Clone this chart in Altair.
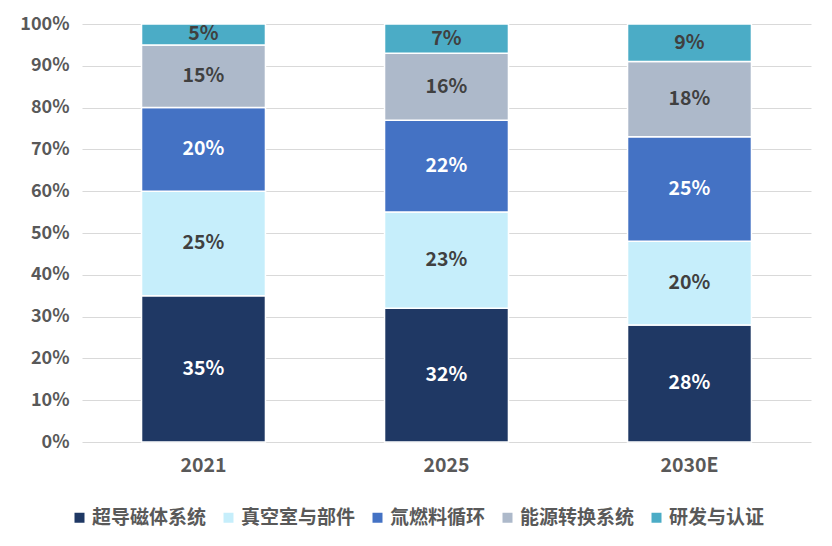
import altair as alt
import pandas as pd

years = ["2021", "2025", "2030E"]
series = ["超导磁体系统", "真空室与部件", "氚燃料循环", "能源转换系统", "研发与认证"]
colors = ["#1F3864", "#C6EEFB", "#4472C4", "#ADB9CA", "#4BACC6"]
text_colors = ["white", "#404040", "white", "#404040", "#404040"]
values = {
    "超导磁体系统": [35, 32, 28],
    "真空室与部件": [25, 23, 20],
    "氚燃料循环": [20, 22, 25],
    "能源转换系统": [15, 16, 18],
    "研发与认证": [5, 7, 9],
}

rows = []
for si, s in enumerate(series):
    for yi, y in enumerate(years):
        rows.append({"year": y, "series": s, "idx": si, "value": values[s][yi],
                     "tcolor": text_colors[si]})
df = pd.DataFrame(rows)

FONT = "Noto Sans CJK SC"

base = alt.Chart(df).transform_stack(
    stack="value", groupby=["year"], as_=["y0", "y1"],
    sort=[alt.SortField("idx", order="ascending")]
).transform_calculate(mid="(datum.y0 + datum.y1) / 2")

bars = base.mark_bar(stroke="white", strokeWidth=1.5).encode(
    x=alt.X("year:N", sort=years, title=None,
            scale=alt.Scale(paddingInner=0.49, paddingOuter=0.245),
            axis=alt.Axis(labelAngle=0, labelFontSize=19.5, labelFontWeight="bold",
                          labelColor="#595959", labelFont=FONT, ticks=False,
                          domain=False, labelPadding=14)),
    y=alt.Y("y0:Q", title=None, scale=alt.Scale(domain=[0, 100], nice=False),
            axis=alt.Axis(values=list(range(0, 101, 10)), labelExpr="datum.value + '%'",
                          labelFontSize=18, labelFontWeight="bold", labelColor="#595959",
                          labelFont=FONT, ticks=False, domain=False, labelPadding=13,
                          gridColor="#D9D9D9", gridWidth=1)),
    y2="y1:Q",
    color=alt.Color("series:N", sort=series,
                    scale=alt.Scale(domain=series, range=colors),
                    legend=alt.Legend(title=None, orient="none", direction="horizontal",
                                      legendX=-12, legendY=484, symbolType="square",
                                      symbolSize=100, symbolStrokeWidth=0,
                                      labelFontSize=19, labelFont=FONT,
                                      labelFontWeight="bold", labelColor="#595959",
                                      columnPadding=12, labelOffset=3)),
    order=alt.Order("idx:Q", sort="ascending"),
)

labels = base.mark_text(fontSize=19.5, fontWeight="bold", font=FONT).encode(
    x=alt.X("year:N", sort=years),
    y=alt.Y("mid:Q"),
    text=alt.Text("label:N"),
    color=alt.Color("tcolor:N", scale=None),
).transform_calculate(label="datum.value + '%'")

chart = alt.layer(bars, labels).properties(
    width=729, height=418,
    background="white",
    autosize=alt.AutoSizeParams(type="none"),
    padding={"left": 74, "top": 16, "right": 13, "bottom": 96},
).configure_view(stroke=None)

chart.save("out.html", embed_options={"renderer": "svg", "actions": False})
